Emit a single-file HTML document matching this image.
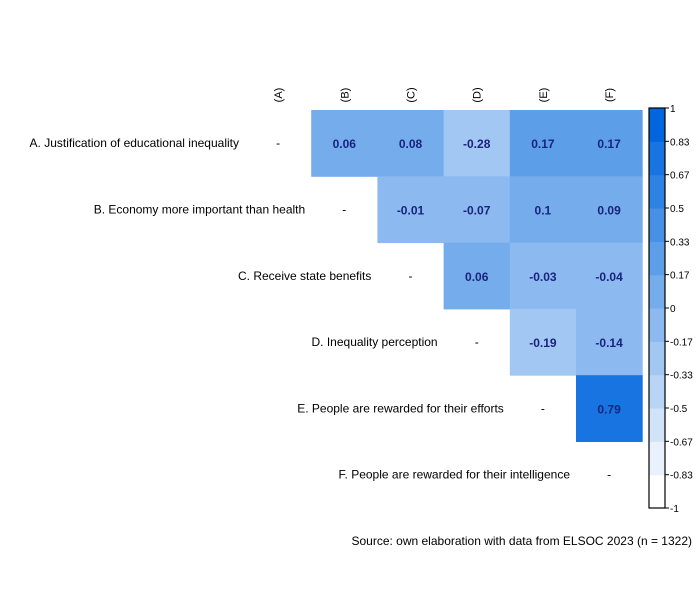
<!DOCTYPE html>
<html><head><meta charset="utf-8"><style>
body{margin:0;background:#fff;}
svg text{font-family:"Liberation Sans",Arial,sans-serif;}
</style></head><body>
<svg id="chart" width="700" height="600" xmlns="http://www.w3.org/2000/svg"></svg>
<script>
const rowLabels=["A. Justification of educational inequality","B. Economy more important than health","C. Receive state benefits","D. Inequality perception","E. People are rewarded for their efforts","F. People are rewarded for their intelligence"];
const colLabels=["(A)","(B)","(C)","(D)","(E)","(F)"];
const corrRowA=[null,0.06,0.08,-0.28,0.17,0.17];
const corrRowB=[null,null,-0.01,-0.07,0.1,0.09];
const corrRowC=[null,null,null,0.06,-0.03,-0.04];
const corrRowD=[null,null,null,null,-0.19,-0.14];
const corrRowE=[null,null,null,null,null,0.79];
const corrRowF=[null,null,null,null,null,null];
const legendTicks=["1","0.83","0.67","0.5","0.33","0.17","0","-0.17","-0.33","-0.5","-0.67","-0.83","-1"];
const matrix=[corrRowA,corrRowB,corrRowC,corrRowD,corrRowE,corrRowF];

const svg=document.getElementById('chart');
const NS="http://www.w3.org/2000/svg";
const gx0=245,gy0=110,cw=66.2,ch=66.3;
const xPos=j=>gx0+j*cw, yPos=i=>gy0+i*ch;
function colorFor(v){let b=Math.floor((v+1)/(2/12));if(b>11)b=11;if(b<0)b=0;const t=b/11;
 const r=Math.round(255*(1-t)),g=Math.round(255*(1-t)+102*t),bl=Math.round(255*(1-t)+221*t);return `rgb(${r},${g},${bl})`;}
function mk(tag,attrs,txt){const e=document.createElementNS(NS,tag);for(const k in attrs)e.setAttribute(k,attrs[k]);if(txt!==undefined)e.textContent=txt;svg.appendChild(e);return e;}

colLabels.forEach((c,j)=>{const cx=xPos(j)+cw/2;
 const t=mk('text',{x:0,y:0,transform:`translate(${cx+4},95) rotate(-90)`,'font-size':11,'text-anchor':'middle'},c);
 
 
});
matrix.forEach((row,i)=>{
 const lt=mk('text',{x:xPos(i)-6,y:yPos(i)+ch/2+4,'font-size':12,'text-anchor':'end'},rowLabels[i]);
 
 
 const d=mk('text',{x:xPos(i)+cw/2,y:yPos(i)+ch/2+4,'font-size':12,'text-anchor':'middle'},'-');
 
 
 row.forEach((v,j)=>{if(v===null)return;
  const r=mk('rect',{x:xPos(j),y:yPos(i),width:cw+0.5,height:ch+0.5,fill:colorFor(v)});
  
  
  const t=mk('text',{x:xPos(j)+cw/2,y:yPos(i)+ch/2+5,'font-size':12,'font-weight':'bold',fill:'#1a237e','text-anchor':'middle'},String(v));
  
  
 });
});
// colorbar
const bx=649,by0=108,bh=400,bw=16;
for(let k=0;k<12;k++){const v=-1+(k+0.5)*(2/12);const y=by0+bh-(k+1)*bh/12;
 const r=mk('rect',{x:bx,y:y,width:bw,height:bh/12+0.5,fill:colorFor(v)});
 
 
}
const fr=mk('rect',{x:bx,y:by0,width:bw,height:bh,fill:'none',stroke:'#000','stroke-width':1.2});


legendTicks.forEach((l,k)=>{const y=by0+k*bh/12;
 const tk=mk('line',{x1:bx+bw,x2:bx+bw+4,y1:y,y2:y,stroke:'#000'});
 
 
 const t=mk('text',{x:bx+bw+5,y:y+4,'font-size':10},l);
 
 
});
const src=mk('text',{x:692,y:545,'font-size':12,'text-anchor':'end'},'Source: own elaboration with data from ELSOC 2023 (n = 1322)');


</script>
</body></html>
